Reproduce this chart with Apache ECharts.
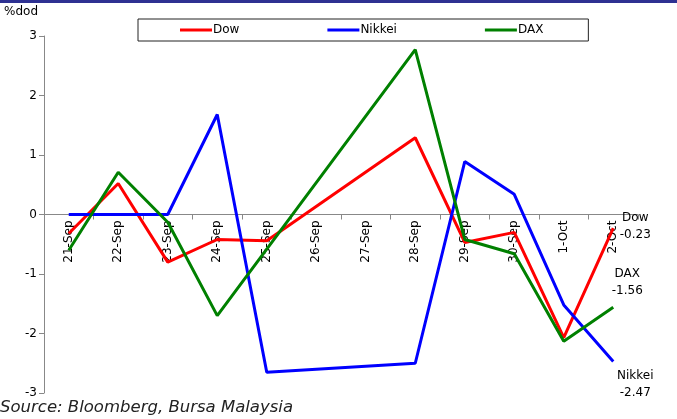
<!DOCTYPE html>
<html>
<head>
<meta charset="utf-8">
<script src="https://cdn.jsdelivr.net/npm/echarts@6/dist/echarts.min.js"></script>
<style>
  html, body { margin: 0; padding: 0; background: #fff; }
  #chart { width: 677px; height: 419px; }
</style>
</head>
<body>
<div id="chart"></div>
<script>
// days on the x axis
const days = ['21-Sep', '22-Sep', '23-Sep', '24-Sep', '25-Sep', '26-Sep',
  '27-Sep', '28-Sep', '29-Sep', '30-Sep', '1-Oct', '2-Oct']
// % day on day, null = no reading (line is joined across)
const dow = [-0.32, 0.52, -0.8, -0.42, -0.44, null, null, 1.29, -0.47, -0.3, -2.07, -0.23]
const nikkei = [0, 0, 0, 1.68, -2.65, null, null, -2.5, 0.89, 0.34, -1.52, -2.47]
const dax = [-0.6, 0.71, -0.13, -1.7, null, null, null, 2.77, -0.42, -0.66, -2.13, -1.56]
const yTicks = [-3, -2, -1, 0, 1, 2, 3]

const font = 'DejaVu Sans'
const gridTop = 36
const gridBottom = 26
const plotH = 419 - gridTop - gridBottom

function endLabel(name, offset) {
  return {
    show: true,
    offset: offset,
    align: 'center',
    color: '#000',
    fontFamily: font,
    fontSize: 12,
    lineHeight: 17,
    formatter: p => name + '\n' + Number(p.value).toFixed(2)
  }
}

const chart = echarts.init(document.getElementById('chart'))
const lineStyle = { width: 3 }

chart.setOption({
  animation: false,
  graphic: [
    { type: 'rect', left: 0, top: 0, shape: { width: 677, height: 3 }, style: { fill: '#2E3192' } },
    {
      type: 'text', left: 0, top: 399,
      style: { text: 'Source: Bloomberg, Bursa Malaysia', font: 'italic 16.5px "DejaVu Sans"', fill: '#222' }
    }
  ],
  legend: {
    top: 19,
    left: 138,
    itemGap: 88,
    padding: [5, 45, 5, 42],
    borderColor: '#222',
    borderWidth: 1,
    itemWidth: 32,
    itemHeight: 3,
    icon: 'rect',
    textStyle: { fontFamily: font, fontSize: 12, color: '#000', padding: [0, 0, 0, -4] },
    data: ['Dow', 'Nikkei', 'DAX']
  },
  grid: { left: 44, right: 39, top: gridTop, bottom: gridBottom },
  xAxis: {
    type: 'category',
    data: days,
    boundaryGap: true,
    // sit the axis on the zero line, labels hang below it
    offset: -plotH / 2,
    axisLine: { onZero: false, lineStyle: { color: '#888' } },
    axisTick: { show: true, length: 5, lineStyle: { color: '#888' } },
    axisLabel: { rotate: 90, fontFamily: font, fontSize: 12, color: '#000', margin: 6 }
  },
  yAxis: {
    type: 'value',
    min: -3,
    max: 3,
    interval: 1,
    name: '%dod',
    nameLocation: 'end',
    nameGap: 18,
    nameTextStyle: { fontFamily: font, fontSize: 12, color: '#000', align: 'right', padding: [0, 6, 0, 0] },
    axisLine: { show: true, lineStyle: { color: '#888' } },
    axisTick: { show: true, length: 5, lineStyle: { color: '#888' } },
    splitLine: { show: false },
    axisLabel: {
      fontFamily: font, fontSize: 12, color: '#000', margin: 7,
      formatter: v => (yTicks.includes(v) ? String(v) : '')
    }
  },
  series: [
    {
      name: 'Dow', type: 'line', color: '#FF0000', symbol: 'none', connectNulls: true,
      lineStyle: lineStyle, data: dow, endLabel: endLabel('Dow', [14, -2])
    },
    {
      name: 'Nikkei', type: 'line', color: '#0000FF', symbol: 'none', connectNulls: true,
      lineStyle: lineStyle, data: nikkei, endLabel: endLabel('Nikkei', [14, 23])
    },
    {
      name: 'DAX', type: 'line', color: '#008000', symbol: 'none', connectNulls: true,
      lineStyle: lineStyle, data: dax, endLabel: endLabel('DAX', [6, -25])
    }
  ]
})
</script>
</body>
</html>
